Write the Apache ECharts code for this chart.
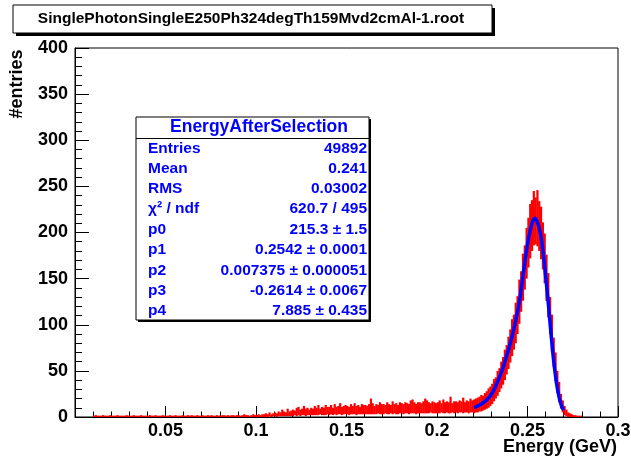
<!DOCTYPE html>
<html>
<head>
<meta charset="utf-8">
<script src="https://cdn.jsdelivr.net/npm/echarts@6/dist/echarts.min.js"></script>
<style>html,body{margin:0;padding:0;background:#fff}#c{width:631px;height:456px}</style>
</head>
<body>
<div id="c"></div>
<script>
// ---- data ----
const histTitle = 'SinglePhotonSingleE250Ph324degTh159Mvd2cmAl-1.root';
const statsTitle = 'EnergyAfterSelection';
const statsLabels = ['Entries', 'Mean', 'RMS', '\u03c7\u00b2 / ndf', 'p0', 'p1', 'p2', 'p3', 'p4'];
const statsValues = ['49892', '0.241', '0.03002', '620.7 / 495', '215.3 \u00b1 1.5', '0.2542 \u00b1 0.0001',
  '0.007375 \u00b1 0.000051', '-0.2614 \u00b1 0.0067', '7.885 \u00b1 0.435'];
const xTickValues = [0.05, 0.1, 0.15, 0.2, 0.25, 0.3];
const yTickValues = [0, 50, 100, 150, 200, 250, 300, 350, 400];

// histogram drawn as per-column envelope (min / max of the fine bins in each 0.001 column)
const binStart = 0.010;
const binWidth = 0.001;
const binHi = [
  1,2,1,0,1,2,1,1,0,2,
  1,0,1,2,1,1,0,1,2,1,
  0,1,2,1,1,0,2,1,1,0,
  1,2,1,1,2,0,1,1,2,1,
  1,0,2,1,1,2,1,0,1,2,
  1,1,2,1,2,1,1,2,1,1,
  2,1,1,2,1,2,1,1,2,1,
  1,2,2,1,2,1,2,2,1,2,
  2,1,2,3,2,2,1,2,3,2,
  2,3,2,3,3,4,3,5,3,4,
  5,4,6,5,8,6,5,9,6,7,
  8,7,10,11,8,9,12,9,10,8,
  10,9,12,10,13,9,11,10,13,11,
  11,13,10,14,11,12,15,11,12,13,
  12,11,14,12,15,12,13,11,14,13,
  13,12,14,20,15,12,14,13,16,14,
  14,13,16,14,13,17,14,15,13,16,
  15,14,16,15,14,18,19,16,14,16,
  16,15,17,20,18,16,15,17,16,15,
  16,18,15,19,16,17,16,22,15,17,
  17,16,18,17,21,16,18,17,20,18,
  19,20,21,22,24,23,26,28,31,33,
  36,41,43,50,53,60,65,73,78,87,
  95,106,111,124,131,149,158,177,186,205,
  216,231,235,245,238,246,234,228,211,199,
  176,156,130,111,86,70,50,38,25,18,
  12,8,5,4,3,2,2,1,1,0
];
const binLo = [
  0,0,0,0,0,0,0,0,0,0,
  0,0,0,0,0,0,0,0,0,0,
  0,0,0,0,0,0,0,0,0,0,
  0,0,0,0,0,0,0,0,0,0,
  0,0,0,0,0,0,0,0,0,0,
  0,0,0,0,0,0,0,0,0,0,
  0,0,0,0,0,0,0,0,0,0,
  0,0,0,0,0,0,0,0,0,0,
  0,0,0,0,0,0,0,0,0,0,
  0,0,0,0,0,0,0,1,0,1,
  1,0,1,1,1,1,1,1,1,1,
  1,2,1,2,1,2,2,1,2,2,
  2,2,2,2,2,3,2,2,2,3,
  2,3,2,3,2,3,3,2,3,3,
  3,2,3,3,3,2,3,3,3,3,
  3,3,3,3,3,3,3,4,3,3,
  3,4,3,3,4,3,4,3,3,4,
  4,3,4,4,3,4,4,4,3,4,
  4,4,4,4,4,4,5,4,4,4,
  4,4,5,4,4,5,4,4,5,4,
  5,4,5,5,4,5,5,4,5,5,
  4,5,5,6,6,7,8,9,10,12,
  14,17,20,23,27,31,35,40,46,52,
  59,66,73,80,90,101,114,126,138,150,
  162,172,180,186,187,185,180,171,160,145,
  126,108,90,71,54,39,26,16,9,5,
  2,1,0,0,0,0,0,0,0,0
];

// fit curve (blue)
const fitX = [0.2205,0.2230,0.2255,0.2280,0.2305,0.2330,0.2355,0.2380,0.2405,0.2430,0.2455,0.2480,0.2505,
  0.2525,0.2540,0.2555,0.2570,0.2585,0.2600,0.2615,0.2630,0.2645,0.2660,0.2675,0.2690,0.2700];
const fitY = [10,12.5,15.5,19.5,26,36,48,63,80,100,125,160,193,210,215.5,211,200,181,153,123,90,60,37,21,11,7.5];

// ---- chart ----
const FONT = '"Liberation Sans", Arial, Helvetica, sans-serif';
const histData = binHi.map((h, i) => [binStart + (i + 0.5) * binWidth, binLo[i], h]);
const fitData = fitX.map((x, i) => [x, fitY[i]]);

const chart = echarts.init(document.getElementById('c'), null, {renderer: 'canvas'});

const graphics = [];
// title box
graphics.push({type: 'rect', z: 100, shape: {x: 16, y: 8, width: 479, height: 28}, style: {fill: '#000'}});
graphics.push({type: 'rect', z: 101, shape: {x: 13, y: 5, width: 479, height: 28}, style: {fill: '#fff', stroke: '#000', lineWidth: 1}});
graphics.push({type: 'text', z: 102, x: 251, y: 19, style: {text: histTitle, align: 'center', verticalAlign: 'middle',
  font: 'bold 15.5px ' + FONT, fill: '#000'}});
// stats box
const sx = 136, sy = 117, sw = 233, sh = 203;
graphics.push({type: 'rect', z: 100, shape: {x: sx + 2, y: sy + 2, width: sw, height: sh}, style: {fill: '#000'}});
graphics.push({type: 'rect', z: 101, shape: {x: sx, y: sy, width: sw, height: sh}, style: {fill: '#fff', stroke: '#000', lineWidth: 1}});
graphics.push({type: 'line', z: 102, shape: {x1: sx, y1: 138.5, x2: sx + sw, y2: 138.5}, style: {stroke: '#000', lineWidth: 1}});
graphics.push({type: 'text', z: 102, x: 259, y: 127, style: {text: statsTitle, align: 'center', verticalAlign: 'middle',
  font: 'bold 17.5px ' + FONT, fill: '#0000ff'}});
const rowY = [149, 168.5, 189, 209, 229.5, 250, 271, 291, 311];
statsLabels.forEach((t, i) => {
  graphics.push({type: 'text', z: 102, x: 148, y: rowY[i], style: {text: t, align: 'left', verticalAlign: 'middle',
    font: 'bold 15.5px ' + FONT, fill: '#0000ff'}});
  graphics.push({type: 'text', z: 102, x: 367, y: rowY[i], style: {text: statsValues[i], align: 'right', verticalAlign: 'middle',
    font: 'bold 15.5px ' + FONT, fill: '#0000ff'}});
});
// axis titles
graphics.push({type: 'text', z: 102, x: 17, y: 84, rotation: Math.PI / 2, style: {text: '#entries', align: 'center', verticalAlign: 'middle',
  font: 'bold 18px ' + FONT, fill: '#000'}});
graphics.push({type: 'text', z: 102, x: 617, y: 447, style: {text: 'Energy (GeV)', align: 'right', verticalAlign: 'middle',
  font: 'bold 18px ' + FONT, fill: '#000'}});

const option = {
  animation: false,
  backgroundColor: '#fff',
  grid: {left: 75, right: 13, top: 48, bottom: 39, show: true, borderColor: '#000', borderWidth: 1,
    backgroundColor: 'transparent', containLabel: false, outerBoundsMode: 'none'},
  xAxis: {
    type: 'value', min: 0, max: 0.3, interval: 0.05,
    axisLine: {show: true, onZero: false, lineStyle: {color: '#000', width: 1}},
    axisTick: {show: true, inside: true, length: 11, lineStyle: {color: '#000', width: 1}},
    minorTick: {show: true, splitNumber: 5, length: 5.5, lineStyle: {color: '#000', width: 1}},
    splitLine: {show: false},
    axisLabel: {
      margin: 5, color: '#000', fontSize: 18, fontWeight: 'bold', fontFamily: FONT,
      formatter: v => {
        const r = parseFloat(v.toFixed(3));
        return xTickValues.indexOf(r) >= 0 ? String(r) : '';
      }
    }
  },
  yAxis: {
    type: 'value', min: 0, max: 400, interval: 50,
    axisLine: {show: true, onZero: false, lineStyle: {color: '#000', width: 1}},
    axisTick: {show: true, inside: true, length: 14, lineStyle: {color: '#000', width: 1}},
    minorTick: {show: true, splitNumber: 5, length: 7, lineStyle: {color: '#000', width: 1}},
    splitLine: {show: false},
    axisLabel: {
      margin: 7, color: '#000', fontSize: 18, fontWeight: 'bold', fontFamily: FONT,
      formatter: v => (yTickValues.indexOf(v) >= 0 ? String(v) : '')
    }
  },
  series: [
    {
      type: 'custom',
      name: 'EnergyAfterSelection',
      clip: true,
      z: 3,
      encode: {x: 0, y: [1, 2]},
      data: histData,
      renderItem: (params, api) => {
        const x = api.value(0), lo = api.value(1), hi = api.value(2);
        const p1 = api.coord([x - binWidth / 2, hi]);
        const p2 = api.coord([x + binWidth / 2, lo]);
        let h = p2[1] - p1[1];
        let top = p1[1];
        if (h < 1.3) { top = p2[1] - 1.3; h = 1.3; }
        return {
          type: 'rect',
          shape: {x: p1[0] - 0.2, y: top, width: (p2[0] - p1[0]) + 0.4, height: h},
          style: {fill: '#ff0000'}
        };
      }
    },
    {
      type: 'line',
      name: 'fit',
      data: fitData,
      smooth: 0.4,
      showSymbol: false,
      z: 5,
      lineStyle: {color: '#0000ff', width: 3.5}
    }
  ],
  graphic: graphics
};
chart.setOption(option);
</script>
</body>
</html>
